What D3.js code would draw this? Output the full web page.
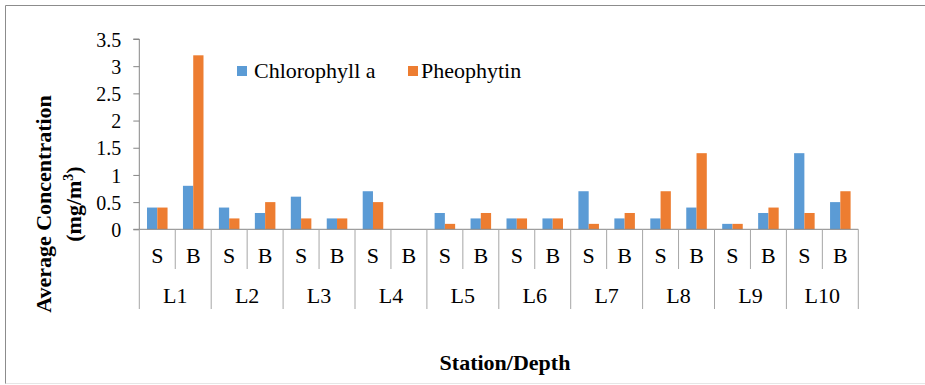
<!DOCTYPE html>
<html>
<head>
<meta charset="utf-8">
<script src="https://cdn.jsdelivr.net/npm/d3@7"></script>
<style>
  html, body { margin: 0; padding: 0; background: #fff; }
  svg { display: block; }
  svg text { font-family: "Liberation Serif", "DejaVu Serif", serif !important; fill: #000; }
</style>
</head>
<body>
<svg id="chart" width="925" height="385" font-family="Liberation Serif, serif"></svg>
<script>
// Stations along the transect and the two sampling depths (S = surface, B = bottom)
const stations = ["L1", "L2", "L3", "L4", "L5", "L6", "L7", "L8", "L9", "L10"];
const depths = ["S", "B"];

// Average concentrations (mg/m3), ordered L1-S, L1-B, L2-S, L2-B, ...
const chlorophyll = [0.4, 0.8, 0.4, 0.3, 0.6, 0.2, 0.7, 0, 0.3, 0.2,
                     0.2, 0.2, 0.7, 0.2, 0.2, 0.4, 0.1, 0.3, 1.4, 0.5];
const pheophytin  = [0.4, 3.2, 0.2, 0.5, 0.2, 0.2, 0.5, 0, 0.1, 0.3,
                     0.2, 0.2, 0.1, 0.3, 0.7, 1.4, 0.1, 0.4, 0.3, 0.7];

const seriesNames = ["Chlorophyll a", "Pheophytin"];
const seriesColors = ["#5B9BD5", "#ED7D31"];
const yTicks = [0, 0.5, 1, 1.5, 2, 2.5, 3, 3.5];

const serif = "'Liberation Serif', serif";

// Flat list of station/depth categories
const categories = [];
stations.forEach(st => depths.forEach(d => categories.push({ station: st, depth: d, key: st + "-" + d })));
const rows = categories.map((c, i) => ({ ...c, values: [chlorophyll[i], pheophytin[i]] }));

const svg = d3.select("#chart");

// Outer chart frame
svg.append("line").attr("x1", 5.5).attr("x2", 5.5).attr("y1", 5.5).attr("y2", 384)
  .attr("stroke", "#8c8c8c").attr("stroke-width", 1);
svg.append("line").attr("x1", 5.5).attr("x2", 925).attr("y1", 5.5).attr("y2", 5.5)
  .attr("stroke", "#8c8c8c").attr("stroke-width", 1);
svg.append("line").attr("x1", 5.5).attr("x2", 925).attr("y1", 383.5).attr("y2", 383.5)
  .attr("stroke", "#e6e6e6").attr("stroke-width", 1);

const plotLeft = 139.3, plotRight = 858.3, plotTop = 39, plotBottom = 229.3;

const x = d3.scaleBand().domain(categories.map(c => c.key)).range([plotLeft, plotRight]).padding(0);
const y = d3.scaleLinear().domain([0, 3.5]).range([plotBottom, plotTop]);

// Bars: gap between clusters is 1.5 bar widths
const bw = x.bandwidth();
const barW = bw / 3.5;
const inner = d3.scaleBand().domain([0, 1]).range([barW * 0.75, bw - barW * 0.75]).padding(0);

const groups = svg.append("g").selectAll("g").data(rows).join("g")
  .attr("transform", d => `translate(${x(d.key)},0)`);
groups.selectAll("rect").data(d => d.values.map((v, i) => ({ v, i }))).join("rect")
  .attr("x", d => inner(d.i))
  .attr("width", inner.bandwidth())
  .attr("y", d => y(d.v))
  .attr("height", d => y(0) - y(d.v))
  .attr("fill", d => seriesColors[d.i]);

// Value axis
const axisColor = "#868686";
const yAxis = svg.append("g").attr("transform", `translate(${plotLeft},0)`)
  .call(d3.axisLeft(y).tickValues(yTicks).tickSize(6).tickPadding(0).tickFormat(d => String(d)));
yAxis.attr("font-family", serif).attr("font-size", 20);
yAxis.select(".domain").attr("stroke", axisColor).attr("d", `M-6,${plotTop}H0V${plotBottom}`);
yAxis.selectAll(".tick line").attr("stroke", axisColor);
yAxis.selectAll(".tick text")
  .attr("x", -18).attr("dy", "0.36em")
  .attr("font-family", serif).attr("font-size", 20).attr("fill", "#000");

// Category axis baseline
svg.append("line").attr("x1", plotLeft - 6).attr("x2", plotRight)
  .attr("y1", plotBottom).attr("y2", plotBottom).attr("stroke", axisColor);

// Multi-level category separators
const sepColor = "#a6a6a6";
const boundaries = d3.range(categories.length + 1);
svg.append("g").selectAll("line").data(boundaries).join("line")
  .attr("x1", i => plotLeft + i * bw).attr("x2", i => plotLeft + i * bw)
  .attr("y1", plotBottom)
  .attr("y2", i => (i % 2 === 0 ? 309 : 269))
  .attr("stroke", sepColor).attr("stroke-width", 1);

// Depth labels
svg.append("g").selectAll("text").data(categories).join("text")
  .attr("x", d => x(d.key) + bw / 2).attr("y", 263)
  .attr("text-anchor", "middle").attr("font-family", serif).attr("font-size", 22)
  .text(d => d.depth);

// Station labels
svg.append("g").selectAll("text").data(stations).join("text")
  .attr("x", (d, i) => plotLeft + (i * 2 + 1) * bw).attr("y", 303)
  .attr("text-anchor", "middle").attr("font-family", serif).attr("font-size", 22)
  .text(d => d);

// Axis titles
svg.append("text").attr("x", 505).attr("y", 370).attr("text-anchor", "middle")
  .attr("font-family", serif).attr("font-size", 22).attr("font-weight", "bold")
  .text("Station/Depth");

const yTitle = svg.append("g").attr("transform", "translate(0,204) rotate(-90)");
yTitle.append("text").attr("x", 0).attr("y", 51).attr("text-anchor", "middle")
  .attr("font-family", serif).attr("font-size", 22).attr("font-weight", "bold")
  .text("Average Concentration");
const unit = yTitle.append("text").attr("x", 0).attr("y", 81).attr("text-anchor", "middle")
  .attr("font-family", serif).attr("font-size", 22).attr("font-weight", "bold");
unit.append("tspan").text("(mg/m");
unit.append("tspan").attr("dy", -8).attr("font-size", 14).text("3");
unit.append("tspan").attr("dy", 8).text(")");

// Legend
const legendItems = [{ x: 237, tx: 254 }, { x: 408, tx: 421 }];
const legend = svg.append("g").selectAll("g").data(seriesNames).join("g");
legend.append("rect")
  .attr("x", (d, i) => legendItems[i].x).attr("y", 66)
  .attr("width", 10).attr("height", 10)
  .attr("fill", (d, i) => seriesColors[i]);
legend.append("text")
  .attr("x", (d, i) => legendItems[i].tx).attr("y", 78)
  .attr("font-family", serif).attr("font-size", 22).text(d => d);
</script>
</body>
</html>
